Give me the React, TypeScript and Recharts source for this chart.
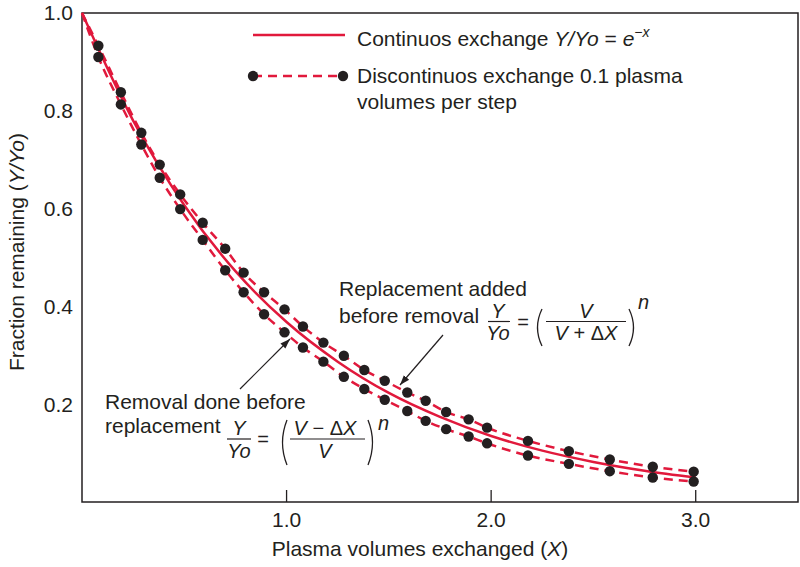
import React from "react";
import { LineChart, Line, XAxis, YAxis, ReferenceArea } from "recharts";

// Plasma exchange: fraction of a substance remaining vs plasma volumes exchanged
const curveX = [0, 0.25, 0.5, 0.75, 1.0, 1.25, 1.5, 1.75, 2.0, 2.25, 2.5, 2.75, 3.0];
const curveY = [1.0, 0.78, 0.607, 0.472, 0.368, 0.287, 0.223, 0.174, 0.135, 0.105, 0.082, 0.064, 0.05];

// discontinuous exchange, one dot per step
const stepX = [
  0.08, 0.19, 0.29, 0.38, 0.48, 0.59, 0.7, 0.79, 0.89, 0.99, 1.08, 1.18, 1.28, 1.38, 1.48,
  1.59, 1.68, 1.78, 1.89, 1.98, 2.18, 2.38, 2.58, 2.79, 2.99,
];
const addedFirst = [
  0.933, 0.838, 0.755, 0.69, 0.629, 0.571, 0.518, 0.469, 0.429, 0.394, 0.359, 0.326, 0.299,
  0.27, 0.248, 0.224, 0.207, 0.184, 0.169, 0.152, 0.125, 0.104, 0.087, 0.072, 0.062,
];
const removedFirst = [
  0.91, 0.813, 0.731, 0.663, 0.599, 0.536, 0.474, 0.429, 0.384, 0.347, 0.316, 0.287, 0.256,
  0.231, 0.209, 0.186, 0.166, 0.149, 0.134, 0.12, 0.095, 0.078, 0.063, 0.05, 0.042,
];

const xTicks = [1, 2, 3];
const yTicks = [0.2, 0.4, 0.6, 0.8, 1.0];

const RED = "#e1193c";
const INK = "#231f20";
const FONT = '"Liberation Sans", Arial, Helvetica, sans-serif';

const continuous = curveX.map((x, i) => ({ x, y: curveY[i] }));
// both stepped curves start from the full amount at x = 0
const stepped = (ys: number[]) => [{ x: 0, y: 1 }, ...stepX.map((x, i) => ({ x, y: ys[i] }))];
const addedData = stepped(addedFirst);
const removedData = stepped(removedFirst);

function renderDot(props: any) {
  const { cx, cy, index } = props;
  if (index === 0 || cx == null || cy == null) return <g key={`s-${index}`} />;
  return <circle key={`d-${index}`} cx={cx} cy={cy} r={5.2} fill={INK} />;
}

function XTick({ x, y, payload }: any) {
  return (
    <g>
      <line x1={x} y1={y} x2={x} y2={y - 12} stroke={INK} strokeWidth={1.3} />
      <text x={x} y={y + 25} textAnchor="middle" fontSize={21} fill={INK} fontFamily={FONT}>
        {Number(payload.value).toFixed(1)}
      </text>
    </g>
  );
}

function Paren({ x, top, bottom, right }: { x: number; top: number; bottom: number; right?: boolean }) {
  const bow = right ? 9 : -9;
  const mid = (top + bottom) / 2;
  return <path d={`M${x},${top} Q${x + bow},${mid} ${x},${bottom}`} fill="none" stroke={INK} strokeWidth={1.3} />;
}

function Annotations() {
  const txt = { fontFamily: FONT, fill: INK, fontSize: 21 } as const;
  const frac = { fontFamily: FONT, fill: INK, fontSize: 20 } as const;
  return (
    <svg
      width={800}
      height={567}
      style={{ position: "absolute", left: 0, top: 0, pointerEvents: "none" }}
    >
      <defs>
        <marker
          id="tip"
          viewBox="0 0 10 10"
          refX="10"
          refY="5"
          markerWidth="10"
          markerHeight="10"
          markerUnits="userSpaceOnUse"
          orient="auto"
        >
          <path d="M0,1.5 L10,5 L0,8.5 z" fill={INK} />
        </marker>
      </defs>

      {/* legend */}
      <line x1={253} y1={35} x2={345} y2={35} stroke={RED} strokeWidth={2.5} />
      <text x={357} y={46} {...txt}>
        Continuos exchange <tspan fontStyle="italic">Y/Yo</tspan> = <tspan fontStyle="italic">e</tspan>
        <tspan fontStyle="italic" fontSize={14} dy={-9}>
          −x
        </tspan>
      </text>
      <line x1={253} y1={76} x2={343} y2={76} stroke={RED} strokeWidth={2.5} strokeDasharray="9 6" />
      <circle cx={253} cy={76} r={5.2} fill={INK} />
      <circle cx={343} cy={76} r={5.2} fill={INK} />
      <text x={357} y={83} {...txt}>
        Discontinuos exchange 0.1 plasma
      </text>
      <text x={357} y={108.5} {...txt}>
        volumes per step
      </text>

      {/* replacement added before removal */}
      <text x={339} y={296} {...txt}>
        Replacement added
      </text>
      <text x={339} y={323} {...txt}>
        before removal
      </text>
      <text x={498} y={317.5} textAnchor="middle" fontStyle="italic" {...frac}>
        Y
      </text>
      <line x1={488} y1={321.5} x2={510} y2={321.5} stroke={INK} strokeWidth={1.2} />
      <text x={498} y={340} textAnchor="middle" fontStyle="italic" {...frac}>
        Yo
      </text>
      <text x={523} y={328.5} textAnchor="middle" {...frac}>
        =
      </text>
      <Paren x={542} top={309} bottom={346} />
      <text x={586} y={317.5} textAnchor="middle" fontStyle="italic" {...frac}>
        V
      </text>
      <line x1={546} y1={321.5} x2={626} y2={321.5} stroke={INK} strokeWidth={1.2} />
      <text x={586} y={340} textAnchor="middle" {...frac}>
        <tspan fontStyle="italic">V</tspan> + Δ<tspan fontStyle="italic">X</tspan>
      </text>
      <Paren x={629} top={309} bottom={346} right />
      <text x={638} y={309} fontStyle="italic" {...frac}>
        n
      </text>
      <line x1={443} y1={335} x2={400} y2={385} stroke={INK} strokeWidth={1.2} markerEnd="url(#tip)" />

      {/* removal done before replacement */}
      <text x={105} y={409} {...txt}>
        Removal done before
      </text>
      <text x={105} y={433} {...txt}>
        replacement
      </text>
      <text x={239} y={435} textAnchor="middle" fontStyle="italic" {...frac}>
        Y
      </text>
      <line x1={227} y1={439} x2={251} y2={439} stroke={INK} strokeWidth={1.2} />
      <text x={239} y={458} textAnchor="middle" fontStyle="italic" {...frac}>
        Yo
      </text>
      <text x={263} y={446} textAnchor="middle" {...frac}>
        =
      </text>
      <Paren x={287} top={420} bottom={465} />
      <text x={325} y={435} textAnchor="middle" {...frac}>
        <tspan fontStyle="italic">V</tspan> − Δ<tspan fontStyle="italic">X</tspan>
      </text>
      <line x1={290} y1={439} x2={365} y2={439} stroke={INK} strokeWidth={1.2} />
      <text x={325} y={458} textAnchor="middle" fontStyle="italic" {...frac}>
        V
      </text>
      <Paren x={368} top={420} bottom={465} right />
      <text x={378} y={430} fontStyle="italic" {...frac}>
        n
      </text>
      <line x1={240} y1={389} x2={290} y2={339} stroke={INK} strokeWidth={1.2} markerEnd="url(#tip)" />

      {/* axis titles */}
      <text x={420} y={556} textAnchor="middle" {...txt}>
        Plasma volumes exchanged (<tspan fontStyle="italic">X</tspan>)
      </text>
      <text
        transform="translate(24, 252) rotate(-90)"
        textAnchor="middle"
        {...txt}
      >
        Fraction remaining (<tspan fontStyle="italic">Y/Yo</tspan>)
      </text>
    </svg>
  );
}

export default function App() {
  return (
    <div style={{ position: "absolute", left: 0, top: 0, width: 800, height: 567, background: "#fff" }}>
      <LineChart width={800} height={567} margin={{ top: 13, right: 2, bottom: 0, left: 0 }}>
        <XAxis
          dataKey="x"
          type="number"
          domain={[0, 3.5]}
          ticks={xTicks}
          axisLine={false}
          tickLine={false}
          tickSize={0}
          tickMargin={0}
          height={65}
          tick={<XTick />}
        />
        <YAxis
          dataKey="y"
          type="number"
          domain={[0, 1]}
          ticks={yTicks}
          axisLine={false}
          tickLine={false}
          tickSize={0}
          tickMargin={9}
          width={82}
          tickFormatter={(v: number) => v.toFixed(1)}
          tick={{ fontSize: 21, fill: INK, fontFamily: FONT }}
        />
        <ReferenceArea x1={0} x2={3.5} y1={0} y2={1} fill="none" stroke={INK} strokeWidth={1.5} />
        <Line
          data={continuous}
          dataKey="y"
          type="monotone"
          stroke={RED}
          strokeWidth={2.5}
          dot={false}
          isAnimationActive={false}
        />
        <Line
          data={addedData}
          dataKey="y"
          type="monotone"
          stroke={RED}
          strokeWidth={2.5}
          strokeDasharray="9 6"
          dot={(p: any) => renderDot(p)}
          isAnimationActive={false}
        />
        <Line
          data={removedData}
          dataKey="y"
          type="monotone"
          stroke={RED}
          strokeWidth={2.5}
          strokeDasharray="9 6"
          dot={(p: any) => renderDot(p)}
          isAnimationActive={false}
        />
      </LineChart>
      <Annotations />
    </div>
  );
}
